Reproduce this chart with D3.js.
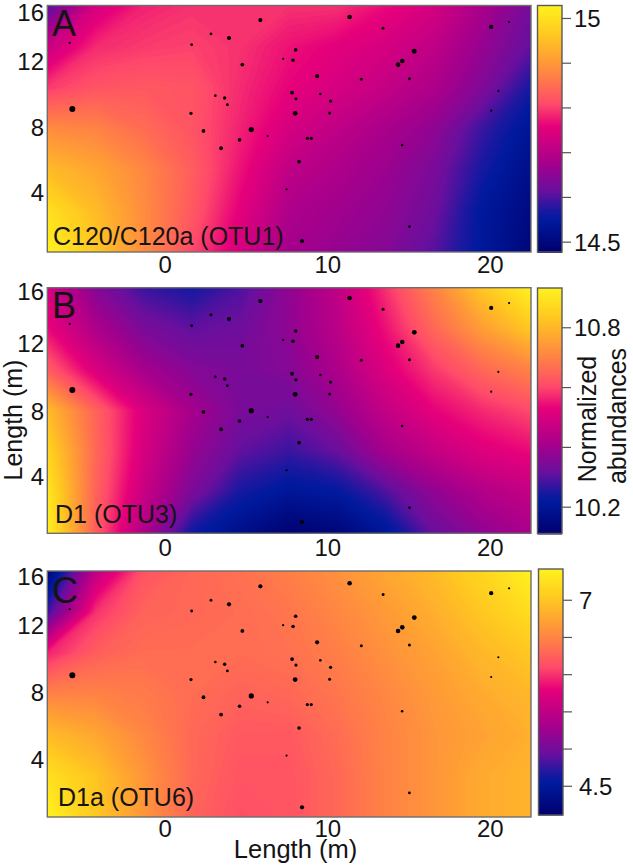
<!DOCTYPE html>
<html><head><meta charset="utf-8">
<script src="https://cdn.jsdelivr.net/npm/d3@7"></script>
<style>html,body{margin:0;background:#fff}svg{display:block}text{font-family:"Liberation Sans",Arial,sans-serif;fill:#141414}</style>
</head><body><svg id="c" width="633" height="865"></svg>
<script>
// sampling positions: columns span x -7.26..22.5 m, rows go from top to bottom of each panel
const pointX=[-5.88,-5.72,1.62,2.81,3.92,5.85,4.74,7.25,7.86,8.02,9.34,3.08,3.65,3.82,7.80,8.04,9.54,1.58,7.99,2.35,5.29,6.30,4.57,8.74,8.98,3.43,8.23,7.46,8.41,11.34,13.4,20.05,21.15,15.32,14.58,14.32,12.06,15.02,10.17,10.11,20.49,20.05,14.57,15.02];
const pointY=[13.19,9.14,13.08,13.74,13.49,14.59,11.86,12.21,12.13,12.76,11.16,9.96,9.82,9.41,10.14,9.77,10.06,8.88,8.88,7.80,7.88,7.49,7.25,7.35,7.35,6.74,5.92,4.23,1.06,14.78,14.09,14.17,14.47,12.68,12.08,11.86,10.96,11.0,9.63,8.90,10.25,9.04,6.94,1.94];
const pointR=[1.1,3,1.4,1.4,2.1,2.1,1.9,1.1,1.8,1.8,2.1,1.3,1.7,1.4,1.9,1.6,1.3,1.6,2.4,1.9,2.6,1.1,1.8,1.6,1.6,1.9,1.8,1.1,2.1,2.3,1.5,2.1,1.1,2.4,2.3,2.3,1.5,1.5,1.6,1.5,1.1,1.1,1.3,1.4];

const gridA=[
14.599,14.737,14.781,14.792,14.792,14.792,14.792,14.765,14.737,14.682,14.627,
14.720,14.787,14.798,14.803,14.792,14.770,14.754,14.737,14.709,14.660,14.610,
14.798,14.820,14.825,14.820,14.787,14.759,14.737,14.715,14.687,14.638,14.566,
14.886,14.875,14.847,14.820,14.781,14.737,14.709,14.682,14.654,14.588,14.533,
14.946,14.919,14.880,14.831,14.770,14.709,14.687,14.665,14.632,14.566,14.517,
15.001,14.946,14.886,14.825,14.754,14.687,14.671,14.654,14.621,14.544,14.506,
15.029,14.963,14.886,14.809,14.737,14.676,14.660,14.643,14.605,14.544,14.495];
const gridB=[
10.498,10.358,10.276,10.243,10.293,10.375,10.457,10.580,10.703,10.834,10.933,
10.539,10.424,10.342,10.309,10.325,10.375,10.449,10.547,10.654,10.752,10.834,
10.637,10.506,10.408,10.358,10.342,10.358,10.424,10.514,10.588,10.654,10.703,
10.810,10.646,10.506,10.408,10.342,10.325,10.383,10.465,10.531,10.572,10.605,
10.867,10.654,10.498,10.383,10.309,10.276,10.317,10.408,10.465,10.514,10.539,
10.908,10.646,10.473,10.342,10.243,10.202,10.219,10.293,10.375,10.432,10.465,
10.933,10.637,10.424,10.235,10.169,10.120,10.137,10.202,10.317,10.375,10.416];
const gridC=[
4.213,5.503,6.164,6.296,6.362,6.461,6.594,6.759,6.924,7.156,7.42,
4.775,5.998,6.263,6.296,6.329,6.395,6.527,6.660,6.825,7.023,7.222,
5.932,6.230,6.329,6.329,6.329,6.362,6.461,6.594,6.726,6.891,7.023,
6.494,6.494,6.428,6.329,6.263,6.296,6.395,6.527,6.660,6.792,6.891,
6.924,6.759,6.527,6.296,6.197,6.197,6.329,6.494,6.627,6.726,6.825,
7.255,6.990,6.627,6.296,6.164,6.164,6.296,6.494,6.627,6.792,6.858,
7.42,7.023,6.627,6.263,6.131,6.164,6.296,6.494,6.627,6.792,6.858];
const gridCols=11, gridRows=7;

const colorStops=[0,.13,.17,.25,.36,.51,.6,.7,.78,.88,1];
const colorHex=["#00006e","#001a9e","#1c18a0","#6a0f9e","#a5008c","#e6007a","#ff4a6a","#ff7a4a","#ff9e35","#ffc820","#fff21e"];

const xTicks=[0,10,20], xDomain=[-7.26,22.5];
const barTicksA=[15,14.9,14.8,14.7,14.6,14.5], barLabelsA=["15","","","","","14.5"];
const barTicksB=[10.8,10.6,10.4,10.2], barLabelsB=["10.8","","","10.2"];
const barTicksC=[7,6.5,6,5.5,5,4.5], barLabelsC=["7","","","","","4.5"];
const yLabels=["4","8","12","16"];
const yLabelAtA=[4,8.04,12.08,15.08], yLabelAtB=[3.83,7.81,12,15.16], yLabelAtC=[4,8.12,12.18,15.18];

const panels=[
 {id:"A",label:"C120/C120a (OTU1)",grid:gridA,yDom:[.387,15.48],vDom:[14.478,15.029],top:5.5,bottom:252,barTop:5.5,barBottom:252,barX:537.5,bt:barTicksA,bl:barLabelsA,yAt:yLabelAtA,xY:273,lx:53,ly:245,ty:36,tx:52,bx:574},
 {id:"B",label:"D1 (OTU3)",grid:gridB,yDom:[.369,15.41],vDom:[10.112,10.933],top:287.7,bottom:533.3,barTop:288,barBottom:533.5,barX:537.5,bt:barTicksB,bl:barLabelsB,yAt:yLabelAtB,xY:556,lx:55,ly:523,ty:318,tx:52,bx:574},
 {id:"C",label:"D1a (OTU6)",grid:gridC,yDom:[.467,15.53],vDom:[4.114,7.42],top:571,bottom:817,barTop:569,barBottom:815,barX:538.5,bt:barTicksC,bl:barLabelsC,yAt:yLabelAtC,xY:837,lx:58,ly:806,ty:603,tx:52,bx:579}
];

const svg=d3.select("#c");
const left=47.3,right=531;
const x=d3.scaleLinear().domain(xDomain).range([left,right]);
const defs=svg.append("defs");

panels.forEach((p,pi)=>{
  const y=d3.scaleLinear().domain(p.yDom).range([p.bottom,p.top]);
  const tScale=d3.scaleLinear().domain(p.vDom).range([0,1]);
  const cmap=d3.scaleLinear().domain(colorStops).range(colorHex).clamp(true);
  const color=v=>cmap(tScale(v));
  // surface
  defs.append("clipPath").attr("id","clip"+pi).append("rect").attr("x",left).attr("y",p.top).attr("width",right-left).attr("height",p.bottom-p.top);
  const g=svg.append("g").attr("clip-path",`url(#clip${pi})`);
  g.append("rect").attr("x",left).attr("y",p.top).attr("width",right-left).attr("height",p.bottom-p.top).attr("fill",color(p.vDom[0]));
  const sx=d3.scaleLinear().domain([.5,gridCols-.5]).range([left,right]);
  const sy=d3.scaleLinear().domain([.5,gridRows-.5]).range([p.top,p.bottom]);
  const path=d3.geoPath(d3.geoTransform({point(a,b){this.stream.point(sx(a),sy(b));}}));
  const levels=d3.range(0,160).map(i=>p.vDom[0]+(p.vDom[1]-p.vDom[0])*i/160);
  const cs=d3.contours().size([gridCols,gridRows]).thresholds(levels)(p.grid);
  g.selectAll("path").data(cs).join("path").attr("d",path).attr("fill",d=>color(d.value+(p.vDom[1]-p.vDom[0])/320));
  // samples
  svg.append("g").selectAll("circle").data(pointX).join("circle")
    .attr("cx",d=>x(d)).attr("cy",(d,i)=>y(pointY[i])).attr("r",(d,i)=>pointR[i]).attr("fill","#000");
  // frame
  svg.append("rect").attr("x",left).attr("y",p.top).attr("width",right-left).attr("height",p.bottom-p.top).attr("fill","none").attr("stroke","#6e6e6e").attr("stroke-width",1.4);
  // labels
  svg.append("g").selectAll("text").data(xTicks).join("text").attr("x",d=>x(d)).attr("y",p.xY).attr("text-anchor","middle").attr("font-size",24).text(d=>d);
  svg.append("g").selectAll("text").data(yLabels).join("text").attr("x",44).attr("y",(d,i)=>y(p.yAt[i])+8.5).attr("text-anchor","end").attr("font-size",24).text(d=>d);
  svg.append("text").attr("x",p.tx).attr("y",p.ty).attr("font-size",36).text(p.id);
  svg.append("text").attr("x",p.lx).attr("y",p.ly).attr("font-size",25).text(p.label);
  // colour bar
  const barW=24.5;
  const by=d3.scaleLinear().domain(p.vDom).range([p.barBottom,p.barTop]);
  const steps=d3.range(0,Math.round(p.barBottom-p.barTop));
  const bg=svg.append("g");
  bg.selectAll("rect").data(steps).join("rect").attr("x",p.barX).attr("width",barW)
    .attr("y",i=>p.barTop+i).attr("height",1.5)
    .attr("fill",i=>color(by.invert(p.barTop+i+.5)));
  bg.append("rect").attr("x",p.barX).attr("y",p.barTop).attr("width",barW).attr("height",p.barBottom-p.barTop).attr("fill","none").attr("stroke","#5a5a5a").attr("stroke-width",1.4);
  bg.selectAll("line").data(p.bt).join("line").attr("x1",p.barX+barW).attr("x2",p.barX+barW+9).attr("y1",d=>by(d)).attr("y2",d=>by(d)).attr("stroke","#555").attr("stroke-width",1.2);
  bg.selectAll("text").data(p.bl).join("text").attr("x",p.bx).attr("y",(d,i)=>by(p.bt[i])+8.5).attr("font-size",24).text(d=>d);
});

svg.append("text").attr("x",295.5).attr("y",858).attr("text-anchor","middle").attr("font-size",25.5).text("Length (m)");
svg.append("text").attr("transform","translate(22,420) rotate(-90)").attr("text-anchor","middle").attr("font-size",25).text("Length (m)");
svg.append("text").attr("transform","translate(596,419) rotate(-90)").attr("text-anchor","middle").attr("font-size",25).text("Normalized");
svg.append("text").attr("transform","translate(626,416) rotate(-90)").attr("text-anchor","middle").attr("font-size",25).text("abundances");
</script></body></html>
